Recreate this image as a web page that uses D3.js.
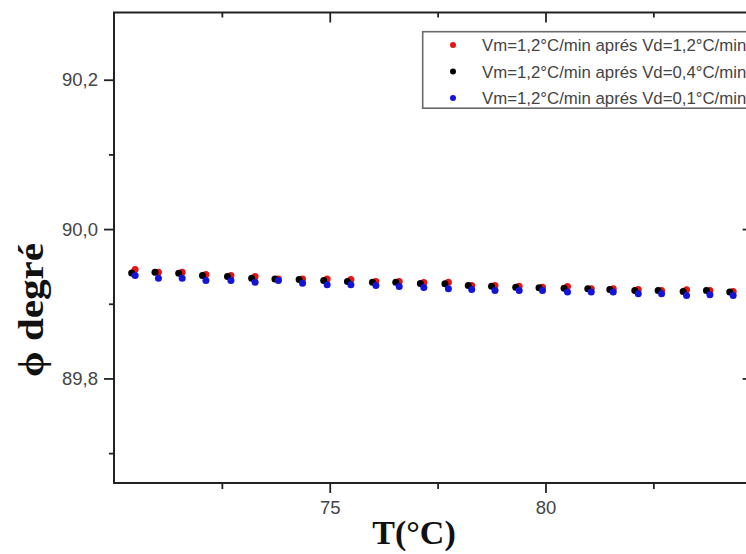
<!DOCTYPE html>
<html><head><meta charset="utf-8">
<script src="https://cdn.jsdelivr.net/npm/d3@7"></script>
<style>body{margin:0;background:#fff;} svg{display:block;}</style>
</head><body>
<svg id="c" width="746" height="554"></svg>
<script>
// ---- data ----
const seriesNames = [
  "Vm=1,2°C/min aprés Vd=1,2°C/min",
  "Vm=1,2°C/min aprés Vd=0,4°C/min",
  "Vm=1,2°C/min aprés Vd=0,1°C/min"
];
const seriesColors = ["#e81414", "#000000", "#1414d8"];
const tRed   = [70.49,71.03,71.58,72.13,72.71,73.27,73.81,74.37,74.94,75.49,76.07,76.61,77.18,77.75,78.29,78.83,79.39,79.93,80.51,81.06,81.57,82.15,82.69,83.27,83.81,84.35];
const phiRed = [89.9458,89.9422,89.9422,89.9391,89.9378,89.9364,89.9333,89.9333,89.9333,89.9324,89.9298,89.9298,89.9284,89.9289,89.9244,89.9244,89.9236,89.9222,89.9231,89.9200,89.9200,89.9191,89.9178,89.9187,89.9178,89.9164];
const tBlack   = [70.41,70.95,71.50,72.05,72.63,73.19,73.73,74.29,74.86,75.41,75.99,76.53,77.10,77.67,78.21,78.75,79.31,79.85,80.43,80.98,81.49,82.07,82.61,83.19,83.73,84.27];
const phiBlack = [89.9413,89.9422,89.9409,89.9378,89.9364,89.9342,89.9333,89.9324,89.9311,89.9298,89.9289,89.9289,89.9271,89.9267,89.9244,89.9236,89.9222,89.9213,89.9209,89.9200,89.9191,89.9178,89.9178,89.9164,89.9178,89.9156];
const tBlue   = [70.49,71.03,71.58,72.13,72.71,73.27,73.81,74.37,74.94,75.49,76.07,76.61,77.18,77.75,78.29,78.83,79.39,79.93,80.51,81.06,81.57,82.15,82.69,83.27,83.81,84.35];
const phiBlue = [89.9378,89.9342,89.9342,89.9311,89.9311,89.9289,89.9311,89.9276,89.9253,89.9253,89.9244,89.9231,89.9218,89.9200,89.9191,89.9178,89.9178,89.9178,89.9156,89.9156,89.9156,89.9133,89.9133,89.9111,89.9120,89.9111];
const xMajorTicks = [75, 80];
const xMinorTicks = [72.5, 77.5, 82.5];
const yMajorTicks = [89.8, 90.0, 90.2];
const yMinorTicks = [89.7, 89.9, 90.1];
const xTitle = "T(°C)";
const yTitle = "ϕ degré";

// ---- layout ----
const svg = d3.select("#c");
const pL = 114, pR = 752.6, pT = 12.5, pB = 483;
const x = d3.scaleLinear().domain([70, 84.8]).range([pL, pR]);
const y = d3.scaleLinear().domain([89.66, 90.29]).range([pB, pT]);
const fmtY = d => d3.format(".1f")(d).replace(".", ",");
const axisColor = "#222";
const labelColor = "#444";

function styleAxis(g) {
  g.select(".domain").remove();
  g.selectAll(".tick line").attr("stroke", axisColor).attr("stroke-width", 1.8);
  g.selectAll(".tick text").attr("fill", labelColor)
    .style("font-family", "Arial, 'Liberation Sans', sans-serif").style("font-size", "18.5px");
}

// bottom
svg.append("g").attr("transform", `translate(0,${pB})`)
  .call(d3.axisBottom(x).tickValues(xMajorTicks).tickSize(10).tickPadding(8).tickFormat(d3.format("d")))
  .call(styleAxis);
svg.append("g").attr("transform", `translate(0,${pB})`)
  .call(d3.axisBottom(x).tickValues(xMinorTicks).tickSize(6).tickFormat(""))
  .call(styleAxis);
// top (inward)
svg.append("g").attr("transform", `translate(0,${pT})`)
  .call(d3.axisTop(x).tickValues(xMajorTicks).tickSize(-10).tickFormat(""))
  .call(styleAxis);
svg.append("g").attr("transform", `translate(0,${pT})`)
  .call(d3.axisTop(x).tickValues(xMinorTicks).tickSize(-5).tickFormat(""))
  .call(styleAxis);
// left
svg.append("g").attr("transform", `translate(${pL},0)`)
  .call(d3.axisLeft(y).tickValues(yMajorTicks).tickSize(10).tickPadding(6).tickFormat(fmtY))
  .call(styleAxis);
svg.append("g").attr("transform", `translate(${pL},0)`)
  .call(d3.axisLeft(y).tickValues(yMinorTicks).tickSize(5).tickFormat(""))
  .call(styleAxis);
// right (inward)
svg.append("g").attr("transform", `translate(${pR},0)`)
  .call(d3.axisRight(y).tickValues(yMajorTicks).tickSize(-10).tickFormat(""))
  .call(styleAxis);
svg.append("g").attr("transform", `translate(${pR},0)`)
  .call(d3.axisRight(y).tickValues(yMinorTicks).tickSize(-5).tickFormat(""))
  .call(styleAxis);

// frame
svg.append("rect").attr("x", pL).attr("y", pT)
  .attr("width", pR - pL).attr("height", pB - pT)
  .attr("fill", "none").attr("stroke", axisColor).attr("stroke-width", 2);

// points
const series = [
  {t: tRed, v: phiRed, c: seriesColors[0]},
  {t: tBlack, v: phiBlack, c: seriesColors[1]},
  {t: tBlue, v: phiBlue, c: seriesColors[2]}
];
series.forEach(s => {
  svg.append("g").selectAll("circle")
    .data(s.t.map((t, i) => ({t, v: s.v[i]})))
    .join("circle")
    .attr("cx", d => x(d.t)).attr("cy", d => y(d.v))
    .attr("r", 3.5).attr("fill", s.c);
});

// legend
const lg = svg.append("g");
lg.append("rect").attr("x", 422.7).attr("y", 31.7).attr("width", 340).attr("height", 76.5)
  .attr("fill", "#fff").attr("stroke", "#6a6a6a").attr("stroke-width", 1.6);
seriesNames.forEach((name, i) => {
  const yy = 45 + i * 26.5;
  lg.append("circle").attr("cx", 453).attr("cy", yy).attr("r", 3).attr("fill", seriesColors[i]);
  lg.append("text").attr("x", 482).attr("y", yy).attr("dy", "0.36em")
    .attr("fill", labelColor)
    .style("font-family", "Arial, 'Liberation Sans', sans-serif").style("font-size", "16.8px")
    .text(name);
});

// axis titles
svg.append("text").attr("x", 414).attr("y", 544).attr("text-anchor", "middle")
  .style("font-family", "'Liberation Serif', 'Times New Roman', serif").style("font-size", "34px")
  .style("font-weight", "bold").attr("fill", "#111").text(xTitle);
svg.append("text").attr("transform", "translate(43,310) rotate(-90)").attr("text-anchor", "middle")
  .attr("textLength", 134).attr("lengthAdjust", "spacingAndGlyphs")
  .style("font-family", "'Liberation Serif', 'Times New Roman', serif").style("font-size", "35px")
  .style("font-weight", "bold").attr("fill", "#111").text(yTitle);
</script>
</body></html>
